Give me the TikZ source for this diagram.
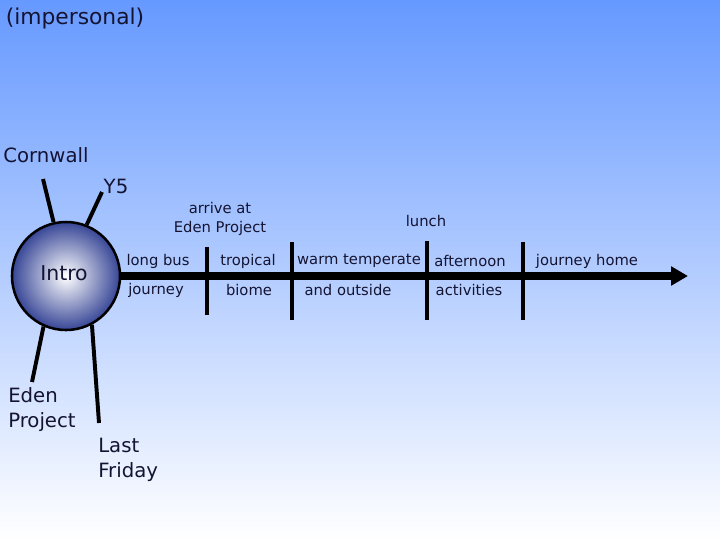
\documentclass[tikz,border=0pt]{standalone}
\usepackage{fontspec}
\setmainfont{DejaVu Sans}
\usepackage{tikz}
\usetikzlibrary{calc, arrows.meta}
\definecolor{skyblue}{RGB}{102,153,255}
\definecolor{ballblue}{RGB}{55,70,150}
\definecolor{ink}{RGB}{20,20,50}

\begin{document}
\begin{tikzpicture}[x=0.025cm, y=-0.025cm,
        txt/.style={text=ink, inner sep=0pt, font=\fontsize{10.5}{14}\selectfont},
        big/.style={text=ink, inner sep=0pt, font=\fontsize{14}{17.7}\selectfont},
        leg/.style={line width=2.8pt},
        tickline/.style={line width=3pt},
        timeline/.style={line width=5pt, -{Triangle[length=12pt, width=13pt]}}]
                \shade[top color=skyblue, bottom color=white] (0,0) rectangle (720,540);
                \useasboundingbox (0,0) rectangle (720,540);
                \node[circle, draw, line width=1.8pt, minimum size=2.7cm, inner color=white, outer color=ballblue] (intro) at (66,276) {};
                \node[big, font=\fontsize{14.5}{17.7}\selectfont] (introtxt) at (64,273) {Intro};
                \node[big, font=\fontsize{15.5}{18}\selectfont] (imp) at (75,18) {(impersonal)};
                \node[big] (cornwall) at (46,155) {Cornwall};
                \node[big] (y5) at (116,186) {Y5};
                \node[big, anchor=west, align=left] (eden) at (8,410) {Eden\\Project};
                \node[big, anchor=west, align=left] (friday) at (98,460) {Last\\Friday};
                \coordinate (cw) at (43,179);
                \coordinate (yf) at (102,192);
                \coordinate (ep) at (32,382);
                \coordinate (lf) at (99,423);
                \coordinate (tip) at (688,276);
                \draw[leg] (intro.103) -- (cw);
                \draw[leg] (intro.68) -- (yf);
                \draw[leg] (intro.246) -- (ep);
                \draw[leg] (intro.298) -- (lf);
                \draw[timeline] (intro.east) -- (tip);
                \foreach \x/\a/\b in {207/247/315, 292/242/320, 427/241/320, 523/242/320}
                    \draw[tickline] (\x,\a) -- (\x,\b);
                \foreach \x/\y/\t [count=\i] in {158/261/long bus, 156/290/journey, 248/261/tropical, 249/290/biome,
                    359/261/warm temperate, 348/290/and outside, 470/261/afternoon, 469/290/activities,
                    587/261/journey home, 426/221/lunch}
                    \node[txt] (lab\i) at (\x,\y) {\t};
                \node[txt, align=center] (arrive) at (220,219) {arrive at\\Eden Project};
            \end{tikzpicture}
\end{document}
